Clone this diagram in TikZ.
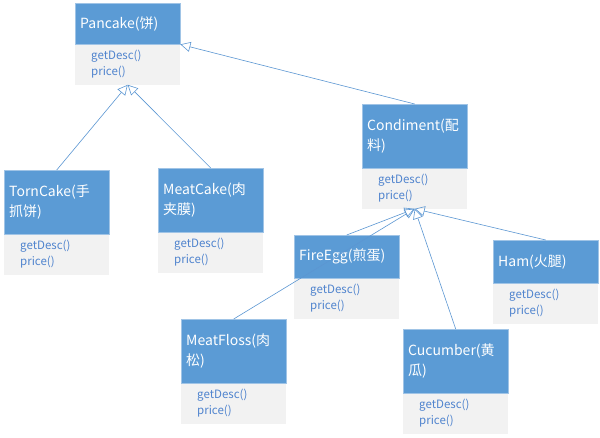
\documentclass[tikz,border=0pt]{standalone}
\usepackage{fontspec}
\setmainfont{Noto Sans CJK SC}
\usetikzlibrary{arrows.meta, positioning}

\definecolor{headblue}{RGB}{91,155,213}
\definecolor{headedge}{RGB}{160,196,230}
\definecolor{bodygray}{RGB}{242,242,242}
\definecolor{methodblue}{RGB}{80,132,206}
\definecolor{linkblue}{RGB}{91,150,210}

\tikzset{
    classhead/.style={anchor=north west, fill=headblue, draw=headedge, line width=0.4pt,
        text=white, font=\fontsize{14}{20}\selectfont, text width=95pt,
        inner xsep=5pt, inner ysep=0pt, align=left},
    classbody/.style={fill=bodygray, text=methodblue, font=\fontsize{11.5}{16}\selectfont,
        text width=73pt, inner xsep=16pt, inner ysep=0pt, align=left, minimum height=40pt},
    extends/.style={draw=linkblue, line width=0.6pt, -{Triangle[open, length=10pt, width=10pt]}}
}

\begin{document}
\begin{tikzpicture}[x=1pt, y=-1pt]
    \useasboundingbox (0,0) rectangle (600,437);

    % base class
    \node[classhead, minimum height=41pt] (pancakeHead) at (75,3) {Pancake(饼)};
    \node[classbody, below=0pt of pancakeHead] (pancakeBody) {getDesc()\\price()};

    % concrete cakes
    \node[classhead, minimum height=64pt] (torncakeHead) at (4,170) {TornCake(手\\抓饼)};
    \node[classbody, below=0pt of torncakeHead] (torncakeBody) {getDesc()\\price()};

    \node[classhead, minimum height=64pt] (meatcakeHead) at (158,168) {MeatCake(肉\\夹膜)};
    \node[classbody, below=0pt of meatcakeHead] (meatcakeBody) {getDesc()\\price()};

    % decorator
    \node[classhead, minimum height=64pt] (condimentHead) at (362,104) {Condiment(配\\料)};
    \node[classbody, below=0pt of condimentHead] (condimentBody) {getDesc()\\price()};

    % condiments
    \node[classhead, minimum height=43pt] (fireeggHead) at (294,235) {FireEgg(煎蛋)};
    \node[classbody, below=0pt of fireeggHead] (fireeggBody) {getDesc()\\price()};

    \node[classhead, minimum height=43pt] (hamHead) at (493,240) {Ham(火腿)};
    \node[classbody, below=0pt of hamHead] (hamBody) {getDesc()\\price()};

    \node[classhead, minimum height=64pt] (meatflossHead) at (181,319) {MeatFloss(肉\\松)};
    \node[classbody, below=0pt of meatflossHead] (meatflossBody) {getDesc()\\price()};

    \node[classhead, minimum height=64pt] (cucumberHead) at (403,329) {Cucumber(黄\\瓜)};
    \node[classbody, below=0pt of cucumberHead] (cucumberBody) {getDesc()\\price()};

    % inheritance
    \draw[extends] (torncakeHead.north) -- (pancakeBody.south);
    \draw[extends] (meatcakeHead.north) -- (pancakeBody.south);
    \draw[extends] (condimentHead.north) -- (pancakeHead.south east);

    \draw[extends] (fireeggHead.north) -- (condimentBody.south);
    \draw[extends] (meatflossHead.north) -- (condimentBody.south);
    \draw[extends] (cucumberHead.north) -- (condimentBody.south);
    \draw[extends] (hamHead.north) -- (condimentBody.south);
\end{tikzpicture}
\end{document}
